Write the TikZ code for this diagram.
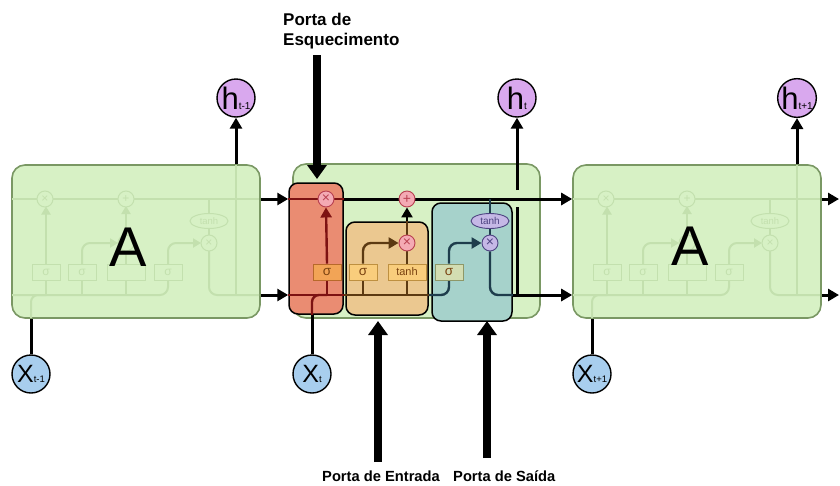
\documentclass[tikz,border=0pt]{standalone}
\usepackage{fontspec}
\setmainfont{Liberation Sans}
\setsansfont{Liberation Sans}
\usetikzlibrary{arrows.meta,shapes.geometric}
\definecolor{cellfill}{HTML}{D7F1C5}
\definecolor{celledge}{HTML}{7A9864}
\definecolor{fadeline}{HTML}{C3E0AE}
\definecolor{redbox}{HTML}{EA8C72}
\definecolor{orabox}{HTML}{EBC890}
\definecolor{tealbox}{HTML}{A6D2CB}
\definecolor{redline}{HTML}{7D1212}
\definecolor{brline}{HTML}{5C3A12}
\definecolor{tline}{HTML}{1E3D4C}
\definecolor{pinkop}{HTML}{F4AAB4}
\definecolor{pinkedge}{HTML}{B84050}
\definecolor{purpop}{HTML}{C5B8E6}
\definecolor{purpedge}{HTML}{4E4482}
\definecolor{sigF}{HTML}{F2A456}
\definecolor{sigFe}{HTML}{B8692A}
\definecolor{sigI}{HTML}{F9CD7C}
\definecolor{sigIe}{HTML}{BE9040}
\definecolor{sigO}{HTML}{D3DDB2}
\definecolor{sigOe}{HTML}{8E9868}
\definecolor{sigtxt}{HTML}{7A4210}
\definecolor{hfill}{HTML}{D9A8EE}
\definecolor{xfill}{HTML}{A8CEEE}
\pgfdeclarelayer{cells}
\pgfdeclarelayer{lines}
\pgfsetlayers{cells,lines,main}
\newcommand{\ghostguts}{%
  \draw[ghost] (293,199) -- (540,199);
  \draw[ghost,rounded corners=8pt] (293,295) -- (449,295) -- (449,280);
  \draw[ghost,rounded corners=7pt] (312,318) -- (312,295) -- (327,295);
  \draw[ghost] (327,295) -- (327,280) (363,295) -- (363,280) (407,295) -- (407,280);
  \draw[ghost,gtip] (327,264) -- (327,206.5);
  \draw[ghost,gtip,rounded corners=8pt] (363,264) -- (363,243) -- (399,243);
  \draw[ghost] (407,264) -- (407,250);
  \draw[ghost,gtip] (407,236) -- (407,206);
  \draw[ghost,gtip,rounded corners=8pt] (449,264) -- (449,243) -- (482,243);
  \draw[ghost] (490,199) -- (490,214) (490,228) -- (490,235);
  \draw[ghost,rounded corners=8pt] (490,251) -- (490,295) -- (540,295);
  \draw[ghost] (517,165) -- (517,295);
  \draw[ghost,line width=1pt,fill=cellfill] (326,199) circle[radius=8pt] (407,199) circle[radius=8pt]
     (407,243) circle[radius=8pt] (490,243) circle[radius=8pt] (490,221) ellipse[x radius=19pt,y radius=7.5pt];
  \draw[ghost,line width=1pt,fill=cellfill] (313,264) rectangle (341,280) (349,264) rectangle (377,280)
     (388,264) rectangle (426,280) (435,264) rectangle (463,280);
  \path[gtext] (326,199) node{×} (407,199) node{+} (490,243) node{×}
     (490,221) node[font=\fontsize{9.5}{10}\selectfont]{tanh}
     (327,272) node{σ} (363,272) node{σ} (449,272) node{σ};
}
\begin{document}
\begin{tikzpicture}[x=1pt,y=-1pt,
  cellbox/.style={draw=celledge, line width=1.6pt, fill=cellfill, rounded corners=13pt, minimum width=248pt, minimum height=153pt, inner sep=0},
  gatebox/.style={draw=black, line width=1.5pt, rounded corners=9pt, inner sep=0},
  hc/.style={circle, draw=black, line width=1.4pt, fill=hfill, minimum size=38pt, inner sep=0},
  xc/.style={hc, fill=xfill},
  opp/.style={circle, draw=pinkedge, line width=0.9pt, fill=pinkop, minimum size=16pt, inner sep=0, text=pinkedge, font=\fontsize{14}{14}\selectfont},
  opq/.style={opp, draw=purpedge, fill=purpop, text=purpedge},
  lay/.style={draw, line width=0.9pt, minimum height=16pt, minimum width=28pt, inner sep=0, text=sigtxt, font=\fontsize{13.5}{12}\selectfont},
  lw/.style={line width=2.4pt},
  lw3/.style={line width=3pt},
  conn/.style={line width=3pt, -{Triangle[length=11pt,width=12pt]}},
  tip/.style={-{Triangle[length=10pt,width=11pt]}},
  bigarr/.style={line width=7.5pt, -{Triangle[length=14pt,width=19pt]}},
  lab/.style={font=\bfseries\fontsize{17}{20}\selectfont, inner sep=0, align=left},
  lab2/.style={font=\bfseries\fontsize{14.7}{17}\selectfont, inner sep=0},
  ghost/.style={draw=fadeline, line width=2pt},
  gtip/.style={-{Triangle[length=8pt,width=9pt]}},
  gtext/.style={text=fadeline, font=\fontsize{12}{12}\selectfont},
  bigA/.style={font=\fontsize{56}{56}\selectfont, inner sep=0}]
\useasboundingbox (0,0) rectangle (840,485);
\begin{pgfonlayer}{cells}
  \fill[white] (0,0) rectangle (840,485);
  \node[cellbox] (cellL) at (136,241.5) {};
  \begin{scope}[xshift=-281pt]\ghostguts\end{scope}
  \node[bigA] (AL) at (128,247) {A};
  \node[cellbox] (cellR) at (697,241.5) {};
  \begin{scope}[xshift=280pt]\ghostguts\end{scope}
  \node[bigA] (AR) at (690,246) {A};
  \node[cellbox, minimum width=247pt, minimum height=154pt] (cellM) at (416.5,241) {};
  \node[gatebox, fill=redbox, minimum width=54pt, minimum height=131pt] (gF) at (316,248.5) {};
  \node[gatebox, fill=orabox, minimum width=82pt, minimum height=93pt] (gI) at (387,268.5) {};
  \node[gatebox, fill=tealbox, minimum width=80pt, minimum height=118pt] (gO) at (472,262) {};
\end{pgfonlayer}
% reference levels
\coordinate (topy) at (0,199);
\coordinate (boty) at (0,295);
% operations and layers
\node[opp] (fx) at (326,199) {×};
\node[opp] (plus) at (407,199) {+};
\node[opp] (ix) at (407,243) {×};
\node[opq] (ox) at (490,243) {×};
\node[ellipse, draw=purpedge, line width=0.9pt, fill=purpop, minimum width=38pt, minimum height=15pt, inner sep=0, text=purpedge, font=\fontsize{10}{10}\selectfont] (th) at (490,221) {tanh};
\node[lay, fill=sigF, draw=sigFe] (sf) at (327,272) {σ};
\node[lay, fill=sigI, draw=sigIe] (si) at (363,272) {σ};
\node[lay, fill=sigI, draw=sigIe, minimum width=38pt, font=\fontsize{11}{11}\selectfont] (tn) at (407,272) {tanh};
\node[lay, fill=sigO, draw=sigOe] (so) at (449,272) {σ};
% h and x circles
\node[hc] (hL) at (236,98) {{\fontsize{31}{31}\selectfont h}{\fontsize{10}{10}\selectfont t-1}};
\node[hc] (hM) at (517,98) {{\fontsize{31}{31}\selectfont h}{\fontsize{10}{10}\selectfont t}};
\node[hc] (hR) at (797,98) {{\fontsize{31}{31}\selectfont h}{\fontsize{10}{10}\selectfont t+1}};
\node[xc] (xL) at (31,374) {{\fontsize{25}{25}\selectfont X}{\fontsize{9.5}{10}\selectfont t-1}};
\node[xc] (xM) at (312,374) {{\fontsize{25}{25}\selectfont X}{\fontsize{9.5}{10}\selectfont t}};
\node[xc] (xR) at (592,374) {{\fontsize{25}{25}\selectfont X}{\fontsize{9.5}{10}\selectfont t+1}};
% labels
\node[lab, anchor=north west] (lblF) at (283,12.5) {Porta de\\Esquecimento};
\node[lab2, anchor=base west] (lblI) at (322,481) {Porta de Entrada};
\node[lab2, anchor=base west] (lblO) at (453,481) {Porta de Saída};
\coordinate (fgTop) at (317,55);
\coordinate (fgTip) at (317,179);
\coordinate (igBot) at (378,462);
\coordinate (igTip) at (378,321);
\coordinate (ogBot) at (487,458);
\coordinate (ogTip) at (487,321);
\coordinate (hopLo) at (517,207);
\coordinate (hopHi) at (517,190);
\coordinate (endT) at (839,199);
\coordinate (endB) at (839,295);
\begin{pgfonlayer}{lines}
  % gate pointers
  \draw[bigarr] (fgTop) -- (fgTip);
  \draw[bigarr] (igBot) -- (igTip);
  \draw[bigarr] (ogBot) -- (ogTip);
  % left cell
  \draw[conn] (hL|-cellL.north) -- (hL.south);
  \draw[lw3] (xL.north) -- (xL.north|-cellL.south);
  \draw[conn] (cellL.east|-topy) -- (gF.west|-topy);
  \draw[conn] (cellL.east|-boty) -- (gF.west|-boty);
  % right cell
  \draw[conn] (hR|-cellR.north) -- (hR.south);
  \draw[lw3] (xR.north) -- (xR.north|-cellR.south);
  \draw[conn] (cellR.east|-topy) -- (endT);
  \draw[conn] (cellR.east|-boty) -- (endB);
  % middle: cell state line
  \draw[lw, redline] (gF.west|-topy) -- (fx.west);
  \draw[lw, redline] (fx.east) -- (gF.east|-topy);
  \draw[conn] (gF.east|-topy) -- (cellR.west|-topy);
  % middle: hidden/input line
  \draw[lw, redline] (gF.west|-boty) -- (gF.east|-boty);
  \draw[lw, brline] (gF.east|-boty) -- (gI.east|-boty);
  \draw[lw, tline, rounded corners=8pt] (gI.east|-boty) -- (so.south|-boty) -- (so.south);
  \draw[lw3] (xM.north) -- (xM.north|-gF.south);
  \draw[lw, redline, rounded corners=7pt] (xM.north|-gF.south) -- (xM.north|-boty) -- (sf.south|-boty);
  \draw[lw, redline] (sf.south|-boty) -- (sf.south);
  \draw[lw, brline] (si.south|-boty) -- (si.south);
  \draw[lw, brline] (tn.south|-boty) -- (tn.south);
  % forget gate
  \draw[lw, redline, tip] (sf.north) -- (fx.south);
  % input gate
  \draw[lw, brline, tip, rounded corners=8pt] (si.north) -- (si.north|-ix) -- (ix.west);
  \draw[lw, brline] (tn.north) -- (ix.south);
  \draw[lw, brline] (ix.north) -- (ix.north|-gI.north);
  \draw[lw, tip] (ix.north|-gI.north) -- (plus.south);
  % output gate
  \draw[lw, tline, tip, rounded corners=8pt] (so.north) -- (so.north|-ox) -- (ox.west);
  \draw[lw, tline] (th.north|-topy) -- (th.north);
  \draw[lw, tline] (th.south) -- (ox.north);
  \draw[lw, tline, rounded corners=8pt] (ox.south) -- (ox.south|-boty) -- (gO.east|-boty);
  \draw[conn] (gO.east|-boty) -- (cellR.west|-boty);
  % h_t output
  \draw[lw3] (hM|-boty) -- (hopLo);
  \draw[conn] (hopHi) -- (hM.south);
\end{pgfonlayer}
\end{tikzpicture}
\end{document}
